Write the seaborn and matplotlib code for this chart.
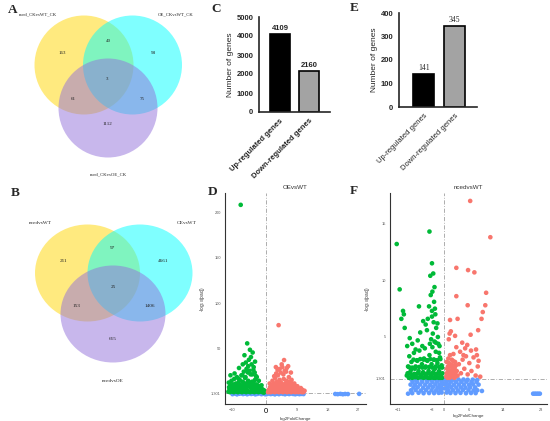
import numpy as np
import pandas as pd
import matplotlib.pyplot as plt
import seaborn as sns
from matplotlib.patches import Circle, Ellipse

# ---------------- data ----------------
# venn counts, order: only1, 1&2, only2, 1&2&3, 1&3, 2&3, only3
venn_a_sets = ['nced_CKvsWT_CK', 'OE_CKvsWT_CK', 'nced_CKvsOE_CK']
venn_a_counts = [163, 40, 98, 3, 61, 75, 1112]
venn_b_sets = ['ncedvsWT', 'OEvsWT', 'ncedvsOE']
venn_b_counts = [211, 97, 4661, 25, 153, 1406, 615]

bar_cats = ['Up-regulated genes', 'Down-regulated genes']
c_counts = [4109, 2160]
e_counts = [141, 345]

# volcano D (OEvsWT)
d_down_x = [-11.0, -10.6, -10.2, -9.8, -9.4, -9.0, -8.6, -8.2, -7.8, -7.4, -7.0, -6.6, -6.2, -5.8,
            -5.4, -5.0, -4.6, -4.2, -3.8, -3.4, -3.0, -2.6, -2.2, -1.8, -1.4, -1.0, -0.6,
            -10.8, -10.4, -10.0, -9.6, -9.2, -8.8, -8.4, -8.0, -7.6, -7.2, -6.8, -6.4, -6.0, -5.6,
            -5.2, -4.8, -4.4, -4.0, -3.6, -3.2, -2.8, -2.4, -2.0, -1.6, -1.2, -0.8, -0.4,
            -10.9, -10.1, -9.3, -8.5, -7.7, -6.9, -6.1, -5.3, -4.5, -3.7, -2.9, -2.1, -1.3,
            -10.7, -10.3, -9.9, -9.5, -9.1, -8.7, -8.3, -7.9, -7.5, -7.1, -6.7, -6.3, -5.9,
            -5.5, -5.1, -4.7, -4.3, -3.9, -3.5, -3.1, -2.7, -2.3, -1.9, -1.5, -1.1, -0.7,
            -8.0, -7.2, -6.5, -5.7, -5.2, -4.8, -4.2, -3.6, -3.3, -2.7, -4.0, -6.0,
            -7.4, -5.5, -4.7, -6.3, -3.9, -5.0, -6.8, -3.2, -4.4, -7.9, -9.2, -10.4, -5.9]
d_down_y = [3, 2.5, 4, 3, 2.5, 5, 3, 2.5, 4, 3, 2.5, 5, 3, 2.5, 4, 3, 2.5, 5, 3, 2.5, 4, 3, 2.5, 4, 3, 2.5, 2,
            8, 10, 7, 11, 9, 12, 8, 13, 10, 9, 14, 11, 12, 9, 15, 13, 10, 14, 12, 16, 11, 10, 8, 9, 6, 5, 4,
            13, 15, 17, 19, 16, 21, 18, 24, 22, 27, 20, 15, 10,
            6, 4, 9, 7, 5, 8, 6, 10, 7, 6, 11, 8, 7, 12, 9, 8, 13, 10, 7, 9, 7, 6, 5, 6, 4, 3,
            17, 21, 25, 28, 31, 26, 33, 30, 24, 19, 22, 19,
            208, 56, 49, 43, 46, 38, 33, 36, 41, 29, 23, 21, 35]
d_up_x = [0.6, 1.0, 1.4, 1.8, 2.2, 2.6, 3.0, 3.4, 3.8, 4.2, 4.6, 5.0, 5.4, 5.8, 6.2, 6.6, 7.0,
          7.4, 7.8, 8.2, 8.6, 9.0, 9.5, 10.0, 10.5, 11.0,
          0.8, 1.2, 1.6, 2.0, 2.4, 2.8, 3.2, 3.6, 4.0, 4.4, 4.8, 5.2, 5.6, 6.0, 6.4, 6.8, 7.2,
          7.6, 8.0, 8.4, 8.8, 9.2, 9.7, 10.2, 10.7, 11.3,
          1.1, 1.9, 2.7, 3.5, 4.3, 5.1, 5.9, 6.7, 7.5, 8.3,
          0.9, 1.3, 1.7, 2.1, 2.5, 2.9, 3.3, 3.7, 4.1, 4.5, 4.9, 5.3, 5.7, 6.1, 6.5, 6.9, 7.3,
          7.7, 8.1, 8.5, 8.9, 9.3,
          4.0, 4.8, 5.5, 6.1, 3.0, 2.4,
          3.7, 5.3, 4.6, 2.9, 6.5, 3.4, 7.3]
d_up_y = [2.5, 3, 2.5, 4, 3, 2.5, 5, 3, 2.5, 4, 3, 2.5, 5, 3, 2.5, 4, 3, 2.5, 4, 3, 2.5, 3, 2.5, 3, 2.5, 2.5,
          5, 8, 10, 7, 12, 9, 14, 11, 16, 13, 10, 17, 12, 15, 11, 14, 9, 12, 8, 10, 7, 9, 6, 7, 5, 4,
          12, 15, 18, 21, 24, 22, 25, 19, 16, 12,
          4, 6, 5, 8, 6, 7, 9, 6, 8, 10, 7, 9, 8, 6, 7, 5, 6, 4, 5, 4, 3, 3,
          28, 30, 26, 29, 23, 20,
          76, 37.7, 33, 30, 31, 27, 24]
d_ns_x = [-9.8, -9.1, -8.5, -7.9, -7.3, -6.7, -6.1, -5.5, -4.9, -4.3, -3.7, -3.1, -2.5, -1.9, -1.3,
          -0.7, -0.2, 0.3, 0.8, 1.4, 2.0, 2.6, 3.2, 3.8, 4.4, 5.0, 5.6, 6.2, 6.8, 7.4, 8.0, 8.6,
          9.2, 9.8, 10.4, 11.0, 20.3, 21.0, 21.8, 22.5, 23.2, 24.0, 27.3]
d_ns_y = [0.3, 0.9, 0.1, 0.7, 1.1, 0.4, 0.8, 0.2, 1.0, 0.5, 0.9, 0.1, 0.6, 1.2, 0.3, 0.8, 0.2, 0.5,
          1.0, 0.4, 0.7, 0.1, 0.9, 0.3, 1.1, 0.6, 0.2, 0.8, 0.4, 1.0, 0.5, 0.2, 0.7, 0.3, 0.6, 0.4,
          0.5, 0.3, 0.6, 0.2, 0.5, 0.4, 0.6]

# volcano F (ncedvsWT)
f_down_x = [-8.9, -8.6, -8.3, -8.1, -7.8, -7.5, -7.2, -7.0, -6.7, -6.4, -6.1, -5.9, -5.6, -5.3,
            -5.0, -4.8, -4.5, -4.2, -4.0, -3.7, -3.5, -3.2, -3.0, -2.8, -2.6, -2.4, -2.2, -2.0,
            -1.8, -1.6, -1.4, -1.2, -1.0, -0.8, -0.6, -0.4,
            -8.4, -7.6, -6.9, -6.2, -5.5, -4.9, -4.3, -3.8, -3.3, -2.9, -2.5, -2.1, -1.7, -1.3,
            -0.9, -0.5, -7.9,
            -8.7, -7.9, -7.1, -6.3, -5.5, -4.7, -3.9, -3.1, -2.3, -1.5, -0.7,
            -8.4, -7.6, -6.8, -6.0, -5.2, -4.4, -3.6, -2.8, -2.0, -1.2, -0.5,
            -7.3, -6.5, -5.7, -4.9, -4.1, -3.3, -2.5, -1.7, -0.9,
            -3.1, -2.7, -2.3, -1.9, -1.5, -1.1, -2.5, -2.1, -2.9, -1.6, -1.2, -3.4, -2.0,
            -8.2, -7.6, -6.8, -6.3, -5.7, -5.2, -4.6, -4.1, -3.9, -3.6, -6.0, -5.0, -4.4,
            -11.3, -10.6, -9.8, -9.6, -10.2, -9.4, -8.8, -3.5, -2.9, -3.3, -2.6, -2.3, -2.8,
            -3.2, -2.4, -2.9, -2.2]
f_down_y = [1.6, 2.4, 3.3, 1.9, 2.8, 1.5, 3.6, 2.2, 1.7, 2.9, 2.0, 3.8, 1.6, 2.6,
            1.9, 3.1, 2.3, 1.5, 2.9, 2.0, 3.4, 1.7, 2.6, 4.1, 1.9, 3.0, 2.2, 3.7,
            1.6, 2.7, 4.4, 2.0, 3.2, 1.5, 2.5, 1.8,
            1.4, 1.4, 1.45, 1.4, 1.45, 1.4, 1.45, 1.4, 1.4, 1.45, 1.4, 1.4, 1.45, 1.4,
            1.4, 1.4, 2.1,
            1.8, 1.7, 1.75, 1.8, 1.7, 1.75, 1.8, 1.7, 1.75, 1.8, 1.7,
            2.35, 2.3, 2.4, 2.35, 2.3, 2.4, 2.35, 2.3, 2.4, 2.35, 2.3,
            3.0, 2.95, 3.05, 3.0, 2.95, 3.05, 3.0, 2.95, 3.05,
            4.8, 5.3, 4.6, 5.8, 5.0, 4.2, 6.3, 7.0, 6.8, 6.2, 3.6, 4.4, 4.5,
            4.9, 4.4, 3.9, 4.7, 5.4, 4.2, 4.0, 5.6, 6.6, 7.7, 7.7, 6.4, 6.1,
            13.2, 9.2, 7.3, 7.0, 6.6, 5.8, 4.2, 14.3, 11.5, 10.4, 10.6, 9.4, 9.0,
            8.7, 8.1, 7.3, 7.5]
f_up_x = [0.5, 0.7, 0.9, 1.1, 1.3, 1.5, 1.7, 1.9, 2.1, 2.3, 2.5, 2.7, 0.6, 1.0, 1.4, 1.8, 2.2,
          2.6, 3.0, 3.2, 0.8, 1.2, 1.6, 2.0, 2.4, 2.8,
          0.6, 1.1, 1.6, 2.1, 2.6, 0.9, 1.5, 2.0, 2.5,
          3.5, 4.0, 4.4, 4.8, 5.2, 5.6, 6.0, 6.5, 7.0, 7.5, 8.0, 8.6, 3.8, 5.0, 6.4, 7.8, 2.9,
          4.3, 7.6, 8.2,
          6.2, 11.0, 2.9, 5.7, 7.2, 10.0, 2.9, 5.6, 9.8, 9.2, 8.9, 1.4, 3.2, 1.3, 1.6, 8.1, 5.5,
          1.1, 2.6, 6.3, 4.6]
f_up_y = [1.5, 2.2, 1.7, 2.7, 1.4, 2.0, 2.5, 1.6, 2.9, 1.9, 2.3, 1.5, 2.8, 3.1, 3.4, 3.0, 3.5,
          2.8, 2.0, 1.6, 1.4, 1.9, 1.5, 2.2, 1.4, 2.5,
          1.8, 2.3, 1.8, 2.5, 1.7, 2.4, 2.6, 1.9, 2.1,
          2.6, 1.8, 3.0, 2.2, 3.3, 1.7, 2.7, 2.0, 3.2, 1.6, 2.4, 1.5, 3.7, 4.0, 3.8, 3.4, 4.1,
          4.5, 3.9, 2.9,
          17.0, 13.8, 11.1, 10.9, 10.7, 8.9, 8.6, 7.8, 7.8, 7.2, 6.6, 6.5, 6.6, 5.3, 5.5, 5.6, 4.3,
          4.8, 5.1, 5.2, 3.4]
f_ns_x = [-7.6, -6.1, -4.9, -3.6, -2.4, -1.3, -0.6, 0.6, 1.5, 2.7, 3.9, 5.2, 6.4, 7.5,
          -7.9, -6.8, -5.5, -4.3, -3.0, -1.9, -0.9, -0.4, 0.4, 1.0, 2.1, 3.3, 4.5, 5.8, 7.0, 7.9,
          -7.3, -6.3, -5.0, -3.8, -2.7, -1.6, -0.7, 0.7, 1.7, 2.9, 4.0, 5.1, 6.2, 7.4,
          -8.0, -6.9, -5.7, -4.5, -3.3, -2.1, -1.1, -0.3, 0.3, 1.2, 2.3, 3.5, 4.7, 5.9, 6.9, 8.2,
          -7.5, -6.4, -5.2, -4.0, -2.8, -1.7, -0.6, 0.6, 1.6, 2.8, 4.1, 5.3, 6.5, 7.7,
          -7.8, -6.7, -5.4, -4.2, -3.1, -2.0, -1.0, -0.2, 0.2, 1.1, 2.2, 3.4, 4.6, 5.6, 6.8, 7.9,
          -8.6, 9.0, 21.2, 21.6, 22.0, 22.4, 22.8]
f_ns_y = [0.05, 0.08, 0.04, 0.06, 0.05, 0.07, 0.1, 0.1, 0.06, 0.05, 0.07, 0.04, 0.06, 0.05,
          0.3, 0.32, 0.28, 0.31, 0.3, 0.29, 0.33, 0.45, 0.45, 0.31, 0.3, 0.28, 0.32, 0.3, 0.29, 0.3,
          0.55, 0.56, 0.53, 0.55, 0.57, 0.54, 0.55, 0.55, 0.56, 0.54, 0.55, 0.53, 0.56, 0.55,
          0.8, 0.79, 0.81, 0.8, 0.78, 0.82, 0.8, 0.85, 0.85, 0.8, 0.79, 0.81, 0.8, 0.78, 0.82, 0.8,
          1.05, 1.04, 1.06, 1.05, 1.03, 1.07, 1.05, 1.05, 1.06, 1.04, 1.05, 1.06, 1.03, 1.05,
          1.25, 1.24, 1.26, 1.25, 1.23, 1.27, 1.25, 1.26, 1.26, 1.25, 1.24, 1.26, 1.25, 1.23, 1.24, 1.22,
          0.0, 0.24, 0.0, 0.0, 0.0, 0.0, 0.0]

# ---------------- figure ----------------
sns.set_style('white')
plt.rcParams['font.family'] = ['Liberation Sans', 'DejaVu Sans']
W, H = 550, 421
fig = plt.figure(figsize=(5.5, 4.21), dpi=100)


def px_axes(l, t, r, b):
    return fig.add_axes([l / W, 1 - b / H, (r - l) / W, (b - t) / H])


serif = ['Liberation Serif', 'DejaVu Serif']

# ----- Venn diagrams -----
axv = px_axes(0, 0, 215, 421)
axv.set_xlim(0, 215)
axv.set_ylim(421, 0)
axv.set_axis_off()
venn_colors = ['gold', 'cyan', 'mediumpurple']

a_centers = [(84, 65), (132.5, 65), (108, 108)]
for (cx, cy), col in zip(a_centers, venn_colors):
    axv.add_patch(Circle((cx, cy), 49.5, facecolor=col, alpha=0.5, edgecolor='none'))
a_num_pos = [(62, 53), (108, 41), (153, 53), (107, 79), (73, 99), (142, 99), (107, 124)]
for (x, y), n in zip(a_num_pos, venn_a_counts):
    axv.text(x, y, str(n), ha='center', va='center', fontsize=3.6, family=serif, color='#222222')
a_lab_pos = [(37.5, 14), (176, 14), (108, 174)]
for (x, y), s in zip(a_lab_pos, venn_a_sets):
    axv.text(x, y, s, ha='center', va='center', fontsize=3.4, family=serif, color='#222222')

b_centers = [(87.5, 273), (140, 273), (113, 314)]
for (cx, cy), col in zip(b_centers, venn_colors):
    axv.add_patch(Ellipse((cx, cy), 105, 97, facecolor=col, alpha=0.5, edgecolor='none'))
b_num_pos = [(64, 261), (113, 248), (163, 261), (113, 287), (77, 306), (150, 306), (113, 339)]
for (x, y), n in zip(b_num_pos, venn_b_counts):
    axv.text(x, y, str(n), ha='center', va='center', fontsize=3.8, family=serif, color='#222222')
b_lab_pos = [(40, 223), (187, 223), (113, 381)]
for (x, y), s in zip(b_lab_pos, venn_b_sets):
    axv.text(x, y, s, ha='center', va='center', fontsize=3.8, family=serif, color='#222222')


# ----- bar charts -----
def bar_panel(ax, counts, ymax, step, bold, value_font):
    df = pd.DataFrame({'cat': bar_cats, 'n': counts})
    sns.barplot(data=df, x='cat', y='n', hue='cat', palette=['black', '#a3a3a3'],
                edgecolor='black', linewidth=1.2, width=0.68, legend=False, ax=ax)
    ax.set_ylim(0, ymax)
    ax.set_yticks(np.arange(0, ymax + 1, step))
    sns.despine(ax=ax)
    for sp in ['left', 'bottom']:
        ax.spines[sp].set_linewidth(1.2)
    w = 'bold' if bold else 'normal'
    ax.tick_params(length=2.5, width=1, labelsize=5.5, pad=1.5)
    for t in ax.get_yticklabels():
        t.set_fontweight('bold')
    ax.set_xticks([0, 1])
    ax.set_xticklabels(bar_cats, rotation=45, ha='right', rotation_mode='anchor',
                       fontsize=5.5, fontweight=w)
    ax.set_xlabel('')
    ax.set_ylabel('Number of genes', fontsize=6, labelpad=2)
    for i, n in enumerate(counts):
        ax.text(i, n + ymax * 0.025, str(n), ha='center', va='bottom', **value_font)


axc = px_axes(259, 17, 330, 112)
bar_panel(axc, c_counts, 5000, 1000, True, dict(fontsize=5.5, fontweight='bold'))
axc.set_xlim(-0.72, 1.72)

axe = px_axes(399, 13, 477, 107)
bar_panel(axe, e_counts, 400, 100, False, dict(fontsize=5.5, family=serif))
axe.set_xlim(-0.8, 1.72)

# ----- volcano plots -----
vol_pal = {'down': '#00BA38', 'up': '#F8766D', 'ns': '#619CFF'}


def volcano(ax, dx, dy, ux, uy, nx, ny, title):
    df = pd.concat([
        pd.DataFrame({'lfc': nx, 'p': ny, 'g': 'ns'}),
        pd.DataFrame({'lfc': dx, 'p': dy, 'g': 'down'}),
        pd.DataFrame({'lfc': ux, 'p': uy, 'g': 'up'}),
    ])
    sns.scatterplot(data=df, x='lfc', y='p', hue='g', palette=vol_pal, s=11,
                    linewidth=0, legend=False, ax=ax)
    dash = (0, (5, 2, 1, 2))
    ax.axvline(0, color='#a0a0a0', lw=0.6, ls=dash, zorder=0)
    ax.axhline(1.301, color='#a0a0a0', lw=0.6, ls=dash, zorder=0)
    sns.despine(ax=ax)
    for sp in ['left', 'bottom']:
        ax.spines[sp].set_linewidth(0.8)
        ax.spines[sp].set_color('#333333')
    ax.tick_params(length=1.5, width=0.5, labelsize=2.8, labelcolor='#555555', pad=1.5,
                   color='#555555')
    ax.set_xlabel('log2FoldChange', fontsize=3.2, labelpad=1.5, color='#333333')
    ax.set_ylabel(r'-log$_{10}$(padj)', fontsize=3.4, labelpad=3, color='#333333')
    ax.set_title(title, fontsize=4.5, pad=3, color='#333333')


axd = px_axes(225, 193, 366, 404)
volcano(axd, d_down_x, d_down_y, d_up_x, d_up_y, d_ns_x, d_ns_y, 'OEvsWT')
axd.set_xlim(-12, 29.3)
axd.set_ylim(-10.5, 221)
axd.set_xticks([-10, 0, 9, 18, 27])
axd.set_yticks([1.301, 50, 100, 150, 200])
axd.set_yticklabels(['1.301', '50', '100', '150', '200'])
zero = axd.get_xticklabels()[1]
zero.set_fontsize(5.5)
zero.set_color('black')

axf = px_axes(390, 193, 547, 404)
volcano(axf, f_down_x, f_down_y, f_up_x, f_up_y, f_ns_x, f_ns_y, 'ncedvsWT')
axf.set_xlim(-12.9, 24.5)
axf.set_ylim(-0.91, 17.7)
axf.set_xticks([-11, -3, 0, 6, 14, 23])
axf.set_yticks([1.301, 5, 10, 15])
axf.set_yticklabels(['1.301', '5', '10', '15'])

# ----- panel letters -----
for s, x, y in [('A', 13, 10), ('B', 15, 193), ('C', 216, 9), ('D', 213, 192),
                ('E', 354, 8), ('F', 354, 191)]:
    fig.text(x / W, 1 - y / H, s, ha='center', va='center', fontsize=9.5,
             fontweight='bold', family=serif)

fig.savefig('out.png', dpi=100)
